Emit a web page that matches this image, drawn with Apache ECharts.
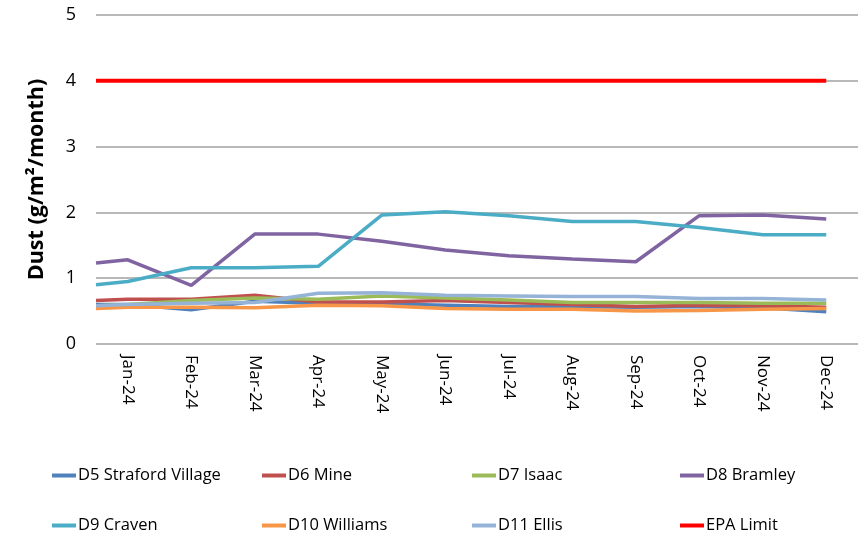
<!DOCTYPE html>
<html><head><meta charset="utf-8">
<script src="https://cdn.jsdelivr.net/npm/echarts@6/dist/echarts.min.js"></script>
<style>html,body{margin:0;padding:0;background:#fff}#c{width:858px;height:536px}</style>
</head><body><div id="c"></div>
<script>
var monthLabels = ['Jan-24','Feb-24','Mar-24','Apr-24','May-24','Jun-24','Jul-24','Aug-24','Sep-24','Oct-24','Nov-24','Dec-24'];
var pointX = [-0.5, 0, 1, 2, 3, 4, 5, 6, 7, 8, 9, 10, 11];
var yTicks = [0, 1, 2, 3, 4, 5];
var seriesNames = ['D5 Straford Village','D6 Mine','D7 Isaac','D8 Bramley','D9 Craven','D10 Williams','D11 Ellis','EPA Limit'];
var d5 = [0.60, 0.60, 0.52, 0.65, 0.62, 0.61, 0.59, 0.57, 0.57, 0.56, 0.57, 0.55, 0.49];
var d6 = [0.66, 0.68, 0.68, 0.74, 0.64, 0.64, 0.66, 0.63, 0.60, 0.57, 0.59, 0.58, 0.56];
var d7 = [0.58, 0.60, 0.66, 0.70, 0.68, 0.73, 0.70, 0.67, 0.63, 0.63, 0.63, 0.62, 0.62];
var d8 = [1.23, 1.28, 0.89, 1.67, 1.67, 1.56, 1.43, 1.34, 1.29, 1.25, 1.95, 1.96, 1.90];
var d9 = [0.90, 0.95, 1.16, 1.16, 1.18, 1.96, 2.01, 1.95, 1.86, 1.86, 1.77, 1.66, 1.66];
var d10 = [0.54, 0.56, 0.56, 0.55, 0.59, 0.58, 0.54, 0.53, 0.53, 0.50, 0.51, 0.53, 0.54];
var d11 = [0.58, 0.60, 0.62, 0.63, 0.77, 0.78, 0.74, 0.73, 0.72, 0.72, 0.69, 0.69, 0.67];
var epa = [4, 4, 4, 4, 4, 4, 4, 4, 4, 4, 4, 4, 4];
var allValues = [d5, d6, d7, d8, d9, d10, d11, epa];
var colors = ['#4F81BD','#C0504D','#9BBB59','#8064A2','#4BACC6','#F79646','#95B3D7','#FF0000'];

var FONT = 'Open Sans';
function pairs(vals){ return vals.map(function(v,i){ return [pointX[i], v]; }); }

var series = seriesNames.map(function(n, k){
  return {
    name: n, type: 'line', data: pairs(allValues[k]), showSymbol: false, symbol: 'none',
    lineStyle: { color: colors[k], width: k === 7 ? 4 : 3.5 },
    itemStyle: { color: colors[k] }, animation: false, z: 2 + k
  };
});

var legendCols = [47, 257, 467, 675];
var legendRows = [462, 512];
var legends = seriesNames.map(function(n, k){
  return {
    data: [n], left: legendCols[k % 4], top: legendRows[Math.floor(k / 4)],
    icon: 'rect', itemWidth: 24, itemHeight: 4, itemGap: 3,
    textStyle: { fontFamily: FONT, fontSize: 16.5, color: '#000', padding: [0,0,0,-3] },
    selectedMode: false
  };
});

var chart = echarts.init(document.getElementById('c'), null, { renderer: 'canvas' });
chart.setOption({
  animation: false,
  color: colors,
  grid: { left: 96, right: 0, top: 15, height: 329 },
  legend: legends,
  xAxis: {
    type: 'value', min: -0.5, max: 11.5,
    axisLine: { show: false }, axisTick: { show: false }, splitLine: { show: false },
    axisLabel: {
      customValues: monthLabels.map(function(m, i){ return i; }),
      formatter: function(v){ return monthLabels[Math.round(v)] || ''; },
      rotate: -90, margin: 11, fontFamily: FONT, fontSize: 17, color: '#000'
    }
  },
  yAxis: {
    type: 'value', min: yTicks[0], max: yTicks[yTicks.length - 1], interval: 1,
    name: 'Dust (g/m\u00B2/month)', nameLocation: 'middle', nameGap: 48,
    nameTextStyle: { fontFamily: FONT, fontSize: 21.5, fontWeight: 'bold', color: '#000' },
    axisLine: { show: false }, axisTick: { show: false },
    axisLabel: { margin: 20, fontFamily: FONT, fontSize: 18, color: '#000' },
    splitLine: { lineStyle: { color: '#A0A0A0', width: 1.5 } }
  },
  series: series
});
</script></body></html>
